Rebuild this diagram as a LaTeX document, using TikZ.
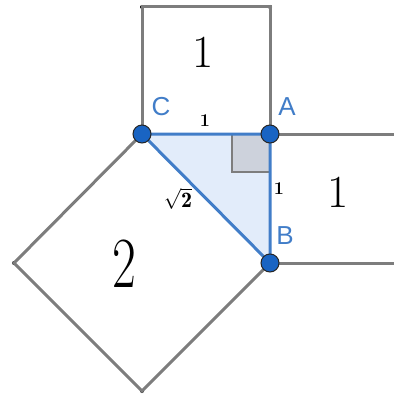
\documentclass[tikz,border=0pt]{standalone}
\usepackage{fontspec}
\setsansfont{Liberation Sans}
\usetikzlibrary{positioning}
\definecolor{dotblue}{RGB}{25,100,195}
\definecolor{legblue}{RGB}{65,125,200}
\definecolor{fillblue}{RGB}{226,236,250}
\definecolor{sqgray}{RGB}{125,125,125}
\definecolor{markgray}{RGB}{205,210,220}
\tikzset{
  sqside/.style={draw=sqgray,line width=3pt},
  leg/.style={draw=legblue,line width=3pt},
  vtx/.style={circle,fill=dotblue,draw=black!85,line width=1pt,inner sep=0pt,minimum size=18pt},
  cnr/.style={circle,fill=black,inner sep=0pt,minimum size=4pt},
  vname/.style={text=legblue,font=\sffamily\fontsize{26}{26}\selectfont},
  slen/.style={font=\bfseries\fontsize{18}{18}\selectfont},
  area/.style={font=\fontsize{46}{46}\selectfont}
}
\begin{document}
\begin{tikzpicture}[x=1pt,y=-1pt]
    \useasboundingbox (0,0) rectangle (394,396);
    % points
    \coordinate (c) at (142,134);\coordinate (a) at (270,134);\coordinate (b) at (270,263);
    \node[cnr] (t1) at (142,7) {};\node[cnr] (t2) at (270,7) {};
    \node[cnr] (h1) at (14,263) {};\node[cnr] (h2) at (142,391) {};
    \coordinate (r1) at (394,134);\coordinate (r2) at (394,263);
    % triangle
    \fill[fillblue] (c) -- (a) -- (b) -- cycle;
    \filldraw[fill=markgray,draw=sqgray,line width=2.5pt] (232,134) rectangle (270,172);
    % squares
    \draw[sqside] (c) -- (t1.center) -- (t2.center) -- (a);
    \draw[sqside] (a) -- (r1);\draw[sqside] (b) -- (r2);
    \draw[sqside] (c) -- (h1.center) -- (h2.center) -- (b);
    % sides
    \draw[leg,line join=round] (c) -- (a) -- (b) -- cycle;
    \node[vtx] (C) at (c) {};\node[vtx] (A) at (a) {};\node[vtx] (B) at (b) {};
    % labels
    \node[vname] (lc) at (161,107) {C};\node[vname] (la) at (287,107) {A};
    \node[vname] (lb) at (285,236) {B};
    \node[slen] (sca) at (205,121) {1};\node[slen] (sab) at (279,189) {1};
    \node[slen,font=\bfseries\fontsize{22}{22}\selectfont] (scb) at (178,199) {$\sqrt{\mathbf{2}}$};
    \node[area] (q1) at (203,52) {1};\node[area] (q2) at (338,192) {1};
    \node[area,font=\fontsize{72}{72}\selectfont] (q3) at (124,264) {\scalebox{0.72}[1]{2}};
\end{tikzpicture}
\end{document}
